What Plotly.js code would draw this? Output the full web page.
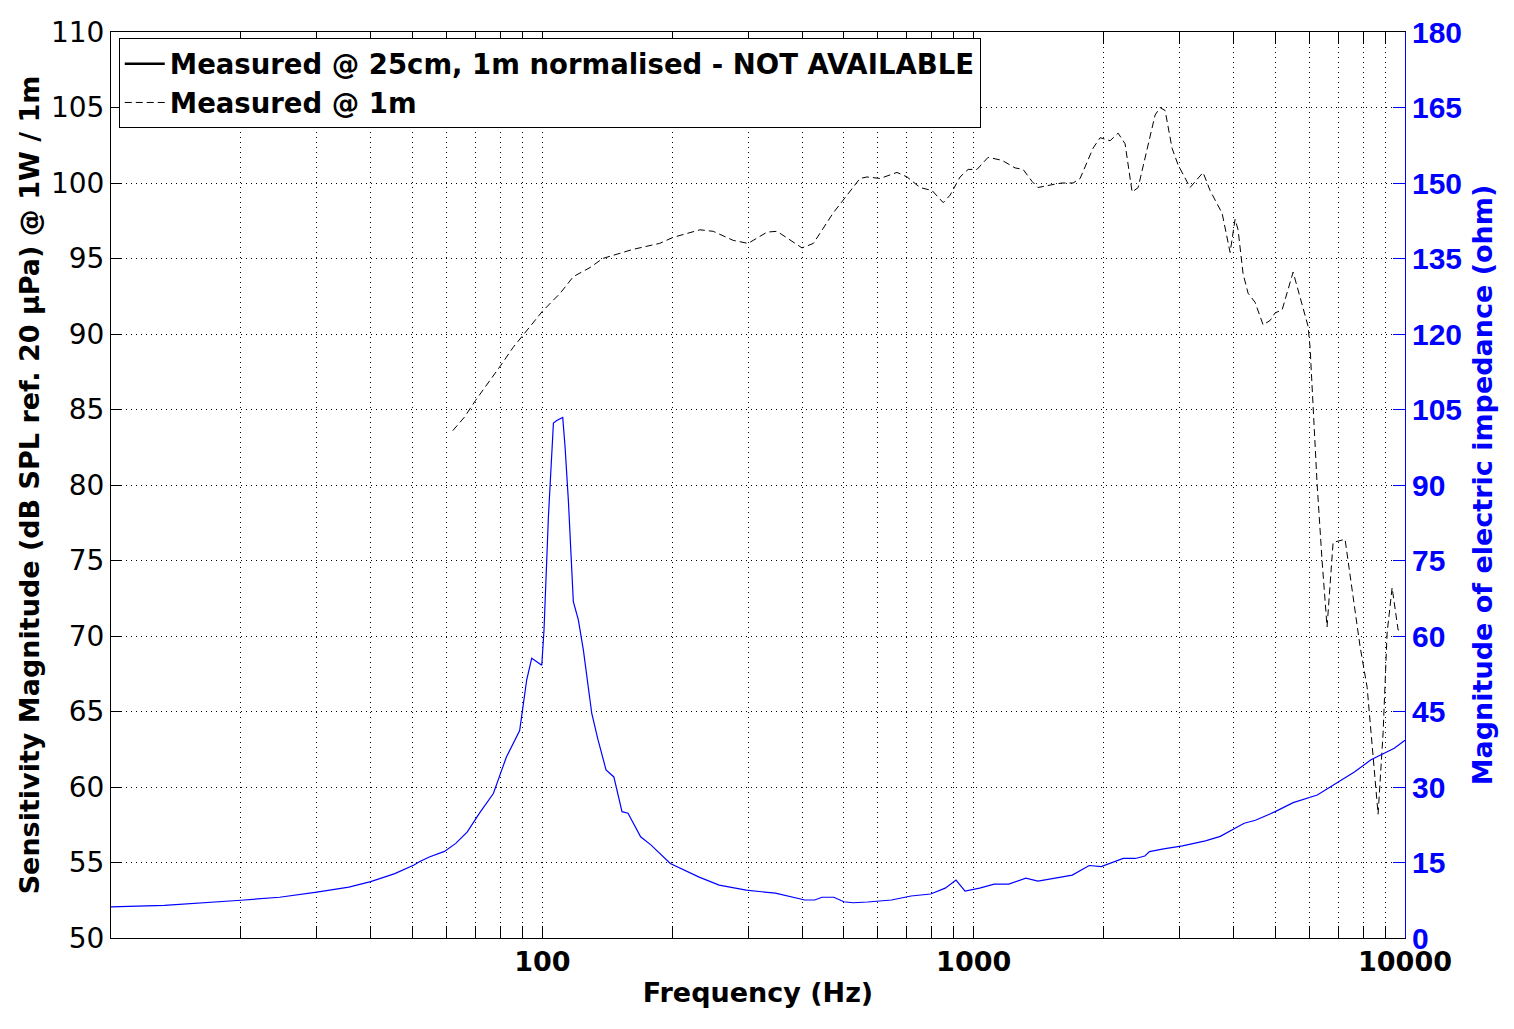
<!DOCTYPE html>
<html>
<head>
<meta charset="utf-8">
<script src="https://cdn.plot.ly/plotly-3.0.1.min.js"></script>
<style>html,body{margin:0;padding:0;background:#fff;}</style>
</head>
<body>
<div id="chart" style="width:1514px;height:1029px;"></div>
<script>
// SPL measured @ 1m (dashed black)
const splFreq = [62, 66, 70, 76, 80, 85.5, 90, 100, 110, 118, 129, 138, 162, 187, 201, 232, 249, 277, 300, 332,
  350, 400, 425, 472, 545, 566, 607, 664, 701, 751, 801, 850, 882, 930, 971, 1018, 1080, 1164, 1247, 1302,
  1366, 1410, 1528, 1603, 1700, 1765, 1891, 1964, 2072, 2162, 2244, 2330, 2406, 2523, 2634, 2705, 2779, 2884, 2978, 3175,
  3403, 3533, 3767, 3931, 4037, 4102, 4213, 4327, 4492, 4689, 4867, 5000, 5190, 5503, 5868, 5962, 6025, 6254, 6423, 6596,
  6813, 7262, 7580, 7868, 8170, 8662, 8897, 9089, 9335, 9639, 9846];
const splDb = [83.6, 84.5, 85.6, 87.0, 87.9, 89.1, 89.9, 91.5, 92.7, 93.8, 94.4, 95.0, 95.6, 96.0, 96.4, 96.9, 96.8, 96.2, 96.0, 96.75,
  96.8, 95.7, 96.0, 98.0, 100.3, 100.4, 100.3, 100.7, 100.4, 99.7, 99.5, 98.7, 99.2, 100.4, 100.9, 100.9, 101.7, 101.5, 101.0, 100.9,
  100.1, 99.7, 99.9, 100.0, 100.0, 100.3, 102.3, 103.0, 102.8, 103.3, 102.6, 99.4, 99.7, 102.2, 104.5, 105.0, 104.8, 102.3, 101.2, 99.7,
  100.7, 99.5, 98.0, 95.4, 97.6, 96.9, 94.0, 92.7, 92.1, 90.6, 90.9, 91.4, 91.6, 94.1, 91.1, 90.5, 89.1, 80.1, 75.0, 70.6,
  76.2, 76.4, 72.6, 69.3, 66.6, 58.2, 63.6, 70.2, 73.2, 70.4, 70.4];

// Electric impedance magnitude (blue, right axis)
const impFreq = [10, 13.3, 20, 24.6, 30, 35.6, 40, 45.5, 50.4, 52, 54.7, 59.3, 63, 67, 71.5, 77, 80, 82.5, 88.6, 90.4,
  92, 94.5, 99.7, 100.9, 102, 103.3, 106.1, 108, 111.5, 112.9, 114.9, 118, 121.2, 124.5, 130.2, 134.5, 140.5, 146.5, 153, 158,
  169, 178.5, 198, 231, 257, 297, 347, 406, 428, 445, 474, 500, 526, 568, 645, 716, 795, 859, 910, 955,
  1032, 1116, 1206, 1321, 1410, 1565, 1693, 1853, 1976, 2221, 2370, 2494, 2556, 2757, 3048, 3446, 3730, 4238, 4500, 5000,
  5505, 6262, 6974, 7632, 8340, 9444, 10000];
const impOhm = [6.2, 6.5, 7.5, 8.1, 9.1, 10.1, 11.2, 12.8, 14.5, 15.2, 16.1, 17.2, 18.8, 21.1, 24.8, 28.7, 32.7, 35.9, 41.2, 46.6,
  51.3, 55.6, 54.2, 61.2, 71.1, 83.7, 102.3, 102.8, 103.4, 97.6, 87.0, 66.8, 63.2, 57.2, 44.6, 39.5, 33.4, 32.0, 25.1, 24.8,
  20.1, 18.5, 14.8, 12.1, 10.5, 9.5, 8.9, 7.55, 7.55, 8.1, 8.1, 7.2, 7.0, 7.15, 7.55, 8.35, 8.74, 9.9, 11.5, 9.3,
  9.9, 10.7, 10.7, 11.9, 11.3, 12.05, 12.5, 14.4, 14.2, 15.8, 15.8, 16.3, 17.15, 17.7, 18.3, 19.3, 20.2, 22.8, 23.4, 25.1,
  26.9, 28.4, 30.9, 33.0, 35.4, 37.7, 39.3];

// Axis ticks
const xTickVals = [100, 1000, 10000];
const xTickText = ['100', '1000', '10000'];
const xMinorVals = [20, 30, 40, 50, 60, 70, 80, 90, 200, 300, 400, 500, 600, 700, 800, 900, 2000, 3000, 4000, 5000, 6000, 7000, 8000, 9000];

const legendNames = ['Measured @ 25cm, 1m normalised - NOT AVAILABLE', 'Measured @ 1m'];
const notAvailable = [null];

const WIDE = 'DejaVu Sans, Verdana, sans-serif';
const ARIAL = 'Liberation Sans, Arial, Helvetica, sans-serif';
const DOT = '1px,4px';

const traces = [
  { x: notAvailable, y: notAvailable, type: 'scatter', mode: 'lines', name: legendNames[0],
    line: { color: 'black', width: 2.5 }, xaxis: 'x', yaxis: 'y' },
  { x: splFreq, y: splDb, type: 'scatter', mode: 'lines', name: legendNames[1],
    line: { color: 'black', width: 1, dash: '7px,4px' }, xaxis: 'x', yaxis: 'y' },
  { x: impFreq, y: impOhm, type: 'scatter', mode: 'lines', name: 'Impedance', showlegend: false,
    line: { color: '#0000ff', width: 1.2 }, xaxis: 'x', yaxis: 'y2' }
];

const layout = {
  width: 1514, height: 1029,
  margin: { l: 111, r: 109, t: 32, b: 91 },
  paper_bgcolor: 'white', plot_bgcolor: 'white',
  font: { family: WIDE, color: 'black', size: 28 },
  showlegend: true,
  legend: {
    x: 0.006, y: 0.993, xanchor: 'left', yanchor: 'top',
    bordercolor: 'black', borderwidth: 1, bgcolor: 'white',
    font: { family: WIDE, size: 27.5, weight: 'bold', color: 'black' },
    traceorder: 'normal', tracegroupgap: 0, itemwidth: 40
  },
  xaxis: {
    type: 'log', range: [1, 4],
    tickmode: 'array', tickvals: xTickVals, ticktext: xTickText,
    ticks: 'inside', ticklen: 12, tickwidth: 1, tickcolor: 'black',
    showline: true, linecolor: 'black', linewidth: 1, mirror: 'allticks',
    showgrid: true, gridcolor: 'black', gridwidth: 1, griddash: DOT,
    zeroline: false,
    tickfont: { family: WIDE, size: 27, weight: 'bold', color: 'black' },
    title: { text: 'Frequency (Hz)', font: { family: WIDE, size: 27, weight: 'bold', color: 'black' }, standoff: 6 },
    minor: {
      tickmode: 'array', tickvals: xMinorVals,
      ticks: 'inside', ticklen: 6, tickwidth: 1, tickcolor: 'black',
      showgrid: true, gridcolor: 'black', gridwidth: 1, griddash: DOT
    }
  },
  yaxis: {
    range: [50, 110], tick0: 50, dtick: 5,
    ticks: 'inside', ticklen: 10, tickwidth: 1, tickcolor: 'black',
    showline: true, linecolor: 'black', linewidth: 1, mirror: false,
    showgrid: true, gridcolor: 'black', gridwidth: 1, griddash: DOT,
    zeroline: false,
    tickfont: { family: WIDE, size: 28, color: 'black' },
    title: { text: 'Sensitivity Magnitude (dB SPL ref. 20 µPa) @ 1W / 1m', font: { family: WIDE, size: 27, weight: 'bold', color: 'black' }, standoff: 3 }
  },
  yaxis2: {
    overlaying: 'y', side: 'right', anchor: 'x',
    range: [0, 180], tick0: 0, dtick: 15,
    ticks: 'inside', ticklen: 12, tickwidth: 1, tickcolor: '#0000ff',
    showline: true, linecolor: '#0000ff', linewidth: 1,
    showgrid: false, zeroline: false,
    tickfont: { family: ARIAL, size: 30, weight: 'bold', color: '#0000ff' },
    title: { text: 'Magnitude of electric impedance (ohm)', font: { family: WIDE, size: 27, weight: 'bold', color: '#0000ff' }, standoff: 12 }
  }
};

Plotly.newPlot('chart', traces, layout, { displayModeBar: false, staticPlot: true });
</script>
</body>
</html>
